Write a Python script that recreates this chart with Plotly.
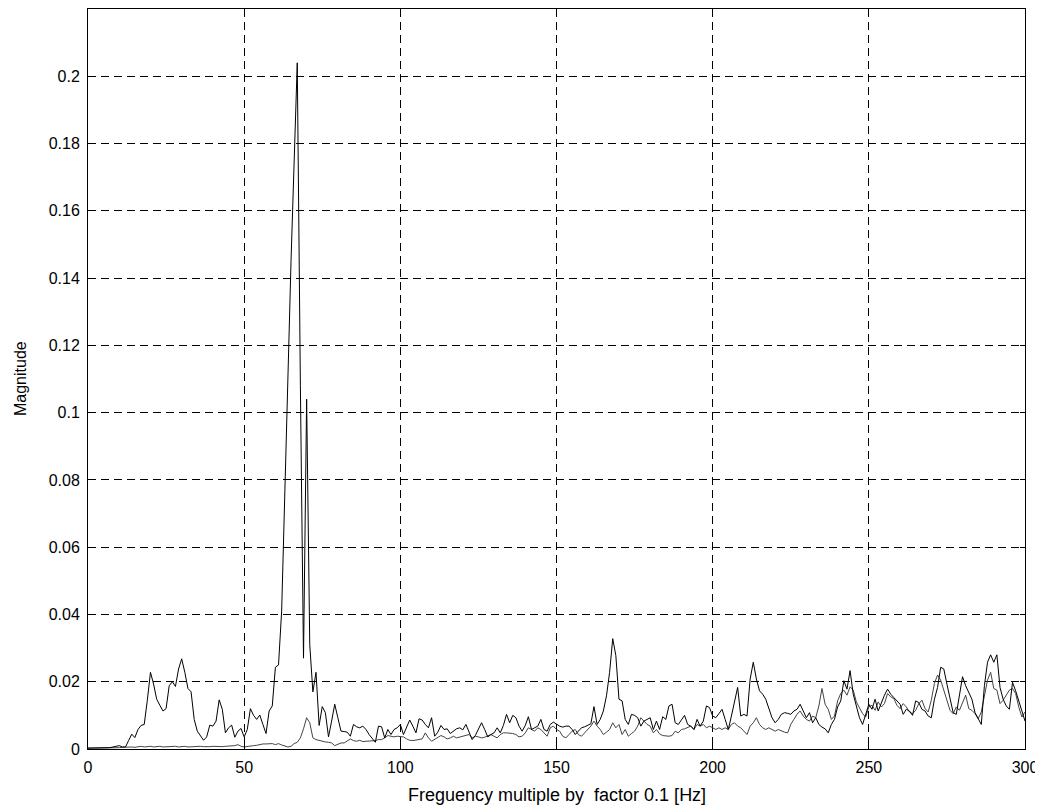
import plotly.graph_objects as go

# frequency index (multiples of 0.1 Hz)
freq = list(range(0, 301))

# first spectrum (with the big peak near 67)
mag_a = [
    0.0003, 0.0003, 0.0003, 0.0003, 0.0003, 0.0003, 0.0003, 0.0004, 0.0006, 0.0008,
    0.0010, 0.0006, 0.0006, 0.0025, 0.0044, 0.0034, 0.0058, 0.0070, 0.0073, 0.0145,
    0.0228, 0.0193, 0.0148, 0.0130, 0.0113, 0.0120, 0.0188, 0.0200, 0.0186, 0.0238,
    0.0268, 0.0228, 0.0180, 0.0170, 0.0088, 0.0053, 0.0038, 0.0026, 0.0036, 0.0071,
    0.0068, 0.0083, 0.0146, 0.0118, 0.0048, 0.0063, 0.0071, 0.0035, 0.0053, 0.0061,
    0.0036, 0.0058, 0.0120, 0.0100, 0.0088, 0.0101, 0.0073, 0.0046, 0.0113, 0.0128,
    0.0243, 0.0250, 0.0410, 0.0790, 0.1100, 0.1450, 0.1780, 0.2040, 0.1080, 0.0270,
    0.1040, 0.0310, 0.0170, 0.0228, 0.0070, 0.0126, 0.0108, 0.0036, 0.0083, 0.0133,
    0.0093, 0.0053, 0.0052, 0.0050, 0.0038, 0.0073, 0.0066, 0.0063, 0.0068, 0.0058,
    0.0043, 0.0030, 0.0020, 0.0068, 0.0066, 0.0033, 0.0058, 0.0043, 0.0058, 0.0063,
    0.0073, 0.0043, 0.0063, 0.0086, 0.0068, 0.0048, 0.0090, 0.0086, 0.0073, 0.0063,
    0.0093, 0.0038, 0.0050, 0.0070, 0.0058, 0.0060, 0.0046, 0.0053, 0.0060, 0.0063,
    0.0057, 0.0073, 0.0053, 0.0028, 0.0040, 0.0060, 0.0078, 0.0058, 0.0036, 0.0043,
    0.0048, 0.0063, 0.0048, 0.0070, 0.0103, 0.0078, 0.0100, 0.0093, 0.0068, 0.0053,
    0.0070, 0.0096, 0.0058, 0.0063, 0.0068, 0.0088, 0.0058, 0.0053, 0.0073, 0.0080,
    0.0073, 0.0068, 0.0065, 0.0068, 0.0068, 0.0058, 0.0043, 0.0053, 0.0063, 0.0066,
    0.0070, 0.0075, 0.0126, 0.0073, 0.0088, 0.0113, 0.0158, 0.0228, 0.0328, 0.0278,
    0.0148, 0.0143, 0.0088, 0.0073, 0.0103, 0.0100, 0.0093, 0.0068, 0.0083, 0.0088,
    0.0093, 0.0058, 0.0083, 0.0058, 0.0096, 0.0088, 0.0128, 0.0133, 0.0078, 0.0073,
    0.0085, 0.0100, 0.0073, 0.0068, 0.0058, 0.0088, 0.0068, 0.0083, 0.0128, 0.0123,
    0.0098, 0.0093, 0.0105, 0.0118, 0.0088, 0.0058, 0.0098, 0.0143, 0.0183, 0.0098,
    0.0103, 0.0098, 0.0208, 0.0258, 0.0208, 0.0173, 0.0163, 0.0148, 0.0123, 0.0093,
    0.0078, 0.0088, 0.0103, 0.0108, 0.0106, 0.0103, 0.0113, 0.0118, 0.0133, 0.0113,
    0.0093, 0.0108, 0.0078, 0.0093, 0.0073, 0.0065, 0.0060, 0.0048, 0.0073, 0.0088,
    0.0125, 0.0143, 0.0203, 0.0178, 0.0233, 0.0163, 0.0128, 0.0093, 0.0073, 0.0103,
    0.0133, 0.0118, 0.0148, 0.0113, 0.0138, 0.0160, 0.0178, 0.0163, 0.0153, 0.0143,
    0.0133, 0.0103, 0.0118, 0.0113, 0.0100, 0.0143, 0.0138, 0.0118, 0.0113, 0.0098,
    0.0093, 0.0148, 0.0183, 0.0243, 0.0238, 0.0193, 0.0148, 0.0108, 0.0103, 0.0158,
    0.0215, 0.0188, 0.0168, 0.0148, 0.0108, 0.0088, 0.0073, 0.0188, 0.0258, 0.0280,
    0.0258, 0.0280, 0.0183, 0.0148, 0.0128, 0.0118, 0.0198, 0.0173, 0.0143, 0.0108,
    0.0083,
]

# second spectrum (low, slowly rising)
mag_b = [
    0.0002, 0.0002, 0.0002, 0.0002, 0.0002, 0.0002, 0.0002, 0.0002, 0.0002, 0.0002,
    0.0004, 0.0005, 0.0006, 0.0007, 0.0006, 0.0005, 0.0007, 0.0008, 0.0006, 0.0007,
    0.0008, 0.0006, 0.0007, 0.0008, 0.0006, 0.0007, 0.0006, 0.0007, 0.0008, 0.0006,
    0.0007, 0.0008, 0.0006, 0.0007, 0.0006, 0.0007, 0.0008, 0.0007, 0.0006, 0.0007,
    0.0008, 0.0007, 0.0008, 0.0007, 0.0008, 0.0008, 0.0009, 0.0010, 0.0013, 0.0008,
    0.0006, 0.0008, 0.0009, 0.0010, 0.0011, 0.0014, 0.0015, 0.0015, 0.0015, 0.0016,
    0.0013, 0.0016, 0.0012, 0.0008, 0.0006, 0.0008, 0.0016, 0.0020, 0.0033, 0.0060,
    0.0093, 0.0078, 0.0033, 0.0028, 0.0025, 0.0023, 0.0021, 0.0020, 0.0018, 0.0010,
    0.0015, 0.0018, 0.0018, 0.0023, 0.0030, 0.0025, 0.0023, 0.0026, 0.0022, 0.0023,
    0.0023, 0.0023, 0.0025, 0.0028, 0.0028, 0.0033, 0.0040, 0.0038, 0.0036, 0.0038,
    0.0038, 0.0036, 0.0030, 0.0026, 0.0025, 0.0026, 0.0028, 0.0030, 0.0048, 0.0033,
    0.0023, 0.0028, 0.0033, 0.0040, 0.0036, 0.0030, 0.0033, 0.0038, 0.0033, 0.0036,
    0.0038, 0.0040, 0.0043, 0.0033, 0.0038, 0.0036, 0.0033, 0.0035, 0.0040, 0.0043,
    0.0038, 0.0033, 0.0043, 0.0048, 0.0048, 0.0048, 0.0046, 0.0043, 0.0036, 0.0038,
    0.0048, 0.0063, 0.0058, 0.0053, 0.0063, 0.0058, 0.0048, 0.0038, 0.0063, 0.0068,
    0.0058, 0.0053, 0.0038, 0.0033, 0.0043, 0.0053, 0.0058, 0.0043, 0.0038, 0.0048,
    0.0058, 0.0068, 0.0083, 0.0068, 0.0058, 0.0043, 0.0050, 0.0058, 0.0078, 0.0063,
    0.0073, 0.0043, 0.0058, 0.0038, 0.0046, 0.0053, 0.0068, 0.0093, 0.0083, 0.0073,
    0.0068, 0.0048, 0.0058, 0.0045, 0.0040, 0.0038, 0.0038, 0.0040, 0.0053, 0.0048,
    0.0058, 0.0060, 0.0063, 0.0068, 0.0058, 0.0073, 0.0068, 0.0073, 0.0063, 0.0068,
    0.0063, 0.0058, 0.0063, 0.0058, 0.0063, 0.0058, 0.0073, 0.0078, 0.0068, 0.0063,
    0.0053, 0.0043, 0.0068, 0.0078, 0.0093, 0.0073, 0.0063, 0.0058, 0.0063, 0.0058,
    0.0053, 0.0058, 0.0053, 0.0050, 0.0048, 0.0073, 0.0088, 0.0103, 0.0113, 0.0098,
    0.0088, 0.0083, 0.0098, 0.0093, 0.0128, 0.0180, 0.0133, 0.0118, 0.0088, 0.0098,
    0.0143, 0.0165, 0.0175, 0.0160, 0.0185, 0.0175, 0.0140, 0.0120, 0.0105, 0.0095,
    0.0125, 0.0130, 0.0115, 0.0140, 0.0125, 0.0135, 0.0165, 0.0155, 0.0150, 0.0130,
    0.0120, 0.0135, 0.0125, 0.0110, 0.0105, 0.0115, 0.0135, 0.0145, 0.0120, 0.0110,
    0.0145, 0.0195, 0.0220, 0.0205, 0.0175, 0.0150, 0.0115, 0.0105, 0.0125, 0.0115,
    0.0135, 0.0160, 0.0120, 0.0115, 0.0105, 0.0090, 0.0110, 0.0155, 0.0205, 0.0228,
    0.0180, 0.0175, 0.0135, 0.0145, 0.0160, 0.0175, 0.0180, 0.0165, 0.0125, 0.0095,
    0.0110,
]

x_ticks = [0, 50, 100, 150, 200, 250, 300]
y_ticks = [0, 0.02, 0.04, 0.06, 0.08, 0.1, 0.12, 0.14, 0.16, 0.18, 0.2]
y_labels = ["0", "0.02", "0.04", "0.06", "0.08", "0.1", "0.12", "0.14", "0.16", "0.18", "0.2"]

fig = go.Figure()
fig.add_trace(go.Scatter(x=freq, y=mag_b, mode="lines",
                         line=dict(color="#444444", width=1), showlegend=False))
fig.add_trace(go.Scatter(x=freq, y=mag_a, mode="lines",
                         line=dict(color="#000000", width=1), showlegend=False))

axis_font = dict(family="Liberation Sans, Arial, sans-serif", size=16, color="black")
title_font = dict(family="Liberation Sans, Arial, sans-serif", size=18, color="black")

fig.update_xaxes(
    range=[0, 300], tickvals=x_ticks, ticks="inside", ticklen=5, tickcolor="black",
    showline=True, linecolor="black", linewidth=1, mirror="ticks",
    showgrid=True, gridcolor="black", gridwidth=1, griddash="8px,5px",
    zeroline=False, tickfont=axis_font, ticklabelstandoff=4,
    ticklabeloverflow="allow",
)
fig.update_yaxes(
    range=[0, 0.22], tickvals=y_ticks, ticktext=y_labels, ticks="inside", ticklen=5,
    tickcolor="black", showline=True, linecolor="black", linewidth=1, mirror="ticks",
    showgrid=True, gridcolor="black", gridwidth=1, griddash="8px,5px",
    zeroline=False, tickfont=axis_font, ticklabelstandoff=4,
)

# the page body adds an 8px offset, so margins are set relative to that
fig.add_annotation(text="Freguency multiple by  factor 0.1 [Hz]", xref="paper", yref="paper",
                   x=0.5, y=-46.0 / 740, xanchor="center", yanchor="middle",
                   showarrow=False, font=title_font)
fig.add_annotation(text="Magnitude", xref="paper", yref="paper", textangle=-90,
                   x=-68.0 / 937, y=0.5, xanchor="center", yanchor="middle",
                   showarrow=False, font=axis_font)

fig.update_layout(
    width=1035, height=797,
    margin=dict(l=80, r=18, t=1, b=56),
    paper_bgcolor="white", plot_bgcolor="white",
)

fig.write_html("out.html")
